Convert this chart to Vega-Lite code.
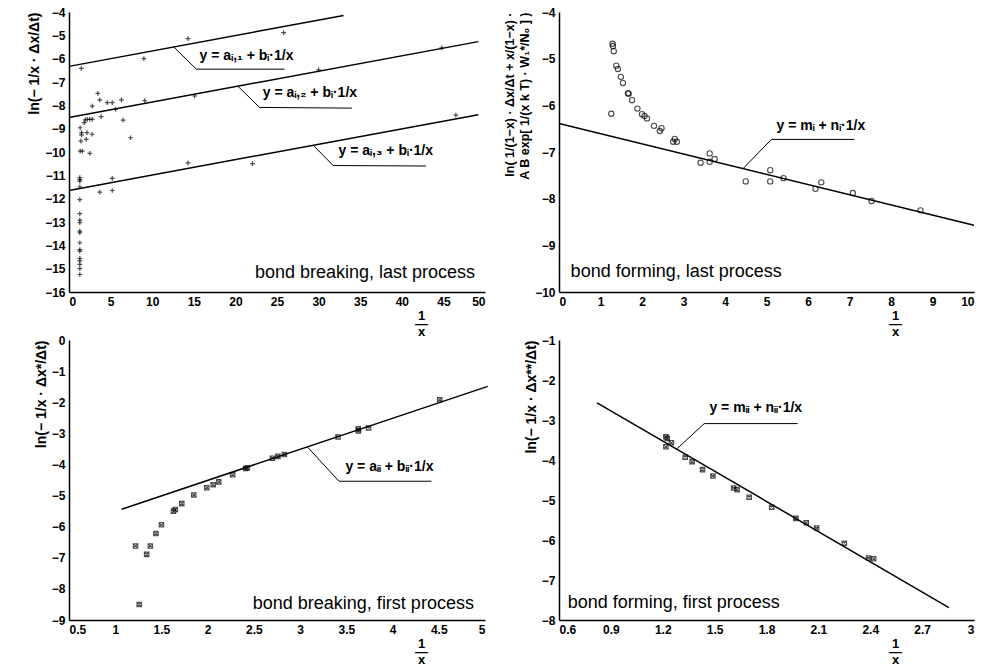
{
  "$schema": "https://vega.github.io/schema/vega-lite/v6.json",
  "background": "white",
  "padding": {"left": 27, "top": 6, "right": 0, "bottom": 0},
  "columns": 2,
  "spacing": {"row": 48, "column": 74},
  "bounds": "flush",
  "datasets": {
    "tl_pts": [
      {"x": 1.48, "y": -6.42}, {"x": 14.3, "y": -5.14}, {"x": 25.8, "y": -4.88}, {"x": 9.0, "y": -6.0},
      {"x": 30.0, "y": -6.48}, {"x": 44.8, "y": -5.54}, {"x": 46.5, "y": -8.42}, {"x": 15.1, "y": -7.6},
      {"x": 9.1, "y": -7.8}, {"x": 3.46, "y": -7.49}, {"x": 3.7, "y": -7.77}, {"x": 2.8, "y": -8.03},
      {"x": 4.6, "y": -7.88}, {"x": 5.2, "y": -7.88}, {"x": 6.3, "y": -7.77}, {"x": 5.6, "y": -8.17},
      {"x": 3.87, "y": -8.48}, {"x": 6.5, "y": -8.63}, {"x": 7.4, "y": -9.39}, {"x": 1.34, "y": -8.96},
      {"x": 1.5, "y": -9.17}, {"x": 1.5, "y": -9.27}, {"x": 1.83, "y": -8.74}, {"x": 1.95, "y": -8.62},
      {"x": 2.2, "y": -8.6}, {"x": 2.5, "y": -8.6}, {"x": 2.8, "y": -8.6}, {"x": 2.16, "y": -9.17},
      {"x": 2.77, "y": -9.24}, {"x": 1.43, "y": -9.53}, {"x": 2.07, "y": -9.46}, {"x": 2.5, "y": -10.06},
      {"x": 1.34, "y": -9.96}, {"x": 1.6, "y": -9.96}, {"x": 1.3, "y": -11.1}, {"x": 1.3, "y": -11.18},
      {"x": 1.3, "y": -11.25}, {"x": 1.3, "y": -11.49}, {"x": 1.3, "y": -12.04}, {"x": 1.3, "y": -12.64},
      {"x": 1.3, "y": -12.92}, {"x": 1.3, "y": -13.03}, {"x": 1.3, "y": -13.39}, {"x": 1.3, "y": -13.46},
      {"x": 1.3, "y": -13.89}, {"x": 1.3, "y": -14.18}, {"x": 1.3, "y": -14.25}, {"x": 1.3, "y": -14.56},
      {"x": 1.3, "y": -14.67}, {"x": 1.3, "y": -14.82}, {"x": 1.3, "y": -15.0}, {"x": 1.3, "y": -15.25},
      {"x": 5.2, "y": -11.13}, {"x": 3.7, "y": -11.72}, {"x": 5.2, "y": -11.65}, {"x": 14.3, "y": -10.47},
      {"x": 22.05, "y": -10.5}
    ],
    "tl_fit": [
      {"line": "a1", "x": 0, "y": -6.33}, {"line": "a1", "x": 33, "y": -4.15},
      {"line": "a2", "x": 0, "y": -8.52}, {"line": "a2", "x": 49.2, "y": -5.27},
      {"line": "a3", "x": 0, "y": -11.65}, {"line": "a3", "x": 49.2, "y": -8.4}
    ],
    "tl_lead": [
      {"line": "a1", "k": 0, "x": 12.6, "y": -5.5}, {"line": "a1", "k": 1, "x": 15.3, "y": -6.45}, {"line": "a1", "k": 2, "x": 25.9, "y": -6.45},
      {"line": "a2", "k": 0, "x": 20.3, "y": -7.18}, {"line": "a2", "k": 1, "x": 22.9, "y": -8.09}, {"line": "a2", "k": 2, "x": 34.0, "y": -8.12},
      {"line": "a3", "k": 0, "x": 29.35, "y": -9.71}, {"line": "a3", "k": 1, "x": 31.75, "y": -10.58}, {"line": "a3", "k": 2, "x": 42.9, "y": -10.6}
    ],
    "tl_lab": [
      {"x": 15.7, "y": -5.88, "label": "y = aᵢ,₁ + bᵢ·1/x"},
      {"x": 23.3, "y": -7.49, "label": "y = aᵢ,₂ + bᵢ·1/x"},
      {"x": 32.4, "y": -9.94, "label": "y = aᵢ,₃ + bᵢ·1/x"}
    ],
    "tr_pts": [
      {"x": 1.29, "y": -4.68}, {"x": 1.3, "y": -4.73}, {"x": 1.32, "y": -4.84}, {"x": 1.38, "y": -5.15},
      {"x": 1.42, "y": -5.22}, {"x": 1.49, "y": -5.39}, {"x": 1.54, "y": -5.52}, {"x": 1.66, "y": -5.74},
      {"x": 1.68, "y": -5.75}, {"x": 1.76, "y": -5.89}, {"x": 1.89, "y": -6.07}, {"x": 2.0, "y": -6.19},
      {"x": 2.06, "y": -6.23}, {"x": 2.12, "y": -6.28}, {"x": 2.29, "y": -6.44}, {"x": 2.43, "y": -6.55},
      {"x": 2.47, "y": -6.49}, {"x": 2.75, "y": -6.78}, {"x": 2.79, "y": -6.72}, {"x": 2.84, "y": -6.78},
      {"x": 1.26, "y": -6.18}, {"x": 3.41, "y": -7.23}, {"x": 3.63, "y": -7.03}, {"x": 3.63, "y": -7.21},
      {"x": 3.75, "y": -7.15}, {"x": 4.5, "y": -7.63}, {"x": 5.09, "y": -7.39}, {"x": 5.09, "y": -7.63},
      {"x": 5.41, "y": -7.56}, {"x": 6.18, "y": -7.79}, {"x": 6.32, "y": -7.65}, {"x": 7.08, "y": -7.88},
      {"x": 7.53, "y": -8.05}, {"x": 8.71, "y": -8.25}
    ],
    "tr_fit": [{"line": "m", "x": 0, "y": -6.39}, {"line": "m", "x": 10, "y": -8.57}],
    "tr_lead": [
      {"line": "m", "k": 0, "x": 4.43, "y": -7.36}, {"line": "m", "k": 1, "x": 5.12, "y": -6.73}, {"line": "m", "k": 2, "x": 7.12, "y": -6.73}
    ],
    "tr_lab": [{"x": 5.24, "y": -6.44, "label": "y = mᵢ + nᵢ·1/x"}],
    "bl_pts": [
      {"x": 1.22, "y": -6.62}, {"x": 1.26, "y": -8.5}, {"x": 1.34, "y": -6.89}, {"x": 1.38, "y": -6.62},
      {"x": 1.44, "y": -6.22}, {"x": 1.5, "y": -5.94}, {"x": 1.63, "y": -5.5}, {"x": 1.65, "y": -5.45},
      {"x": 1.72, "y": -5.26}, {"x": 1.85, "y": -4.98}, {"x": 1.99, "y": -4.75}, {"x": 2.06, "y": -4.65},
      {"x": 2.12, "y": -4.56}, {"x": 2.27, "y": -4.33}, {"x": 2.41, "y": -4.13}, {"x": 2.43, "y": -4.11},
      {"x": 2.7, "y": -3.8}, {"x": 2.76, "y": -3.74}, {"x": 2.83, "y": -3.68}, {"x": 3.41, "y": -3.12},
      {"x": 3.63, "y": -2.92}, {"x": 3.63, "y": -2.85}, {"x": 3.74, "y": -2.83}, {"x": 4.51, "y": -1.92}
    ],
    "bl_fit": [{"line": "a", "x": 1.07, "y": -5.44}, {"line": "a", "x": 5.03, "y": -1.49}],
    "bl_lead": [
      {"line": "a", "k": 0, "x": 3.08, "y": -3.44}, {"line": "a", "k": 1, "x": 3.42, "y": -4.54}, {"line": "a", "k": 2, "x": 4.42, "y": -4.54}
    ],
    "bl_lab": [{"x": 3.49, "y": -4.07, "label": "y = aᵢᵢ + bᵢᵢ·1/x"}],
    "br_pts": [
      {"x": 1.218, "y": -3.42}, {"x": 1.226, "y": -3.46}, {"x": 1.25, "y": -3.57}, {"x": 1.218, "y": -3.67},
      {"x": 1.33, "y": -3.93}, {"x": 1.37, "y": -4.04}, {"x": 1.43, "y": -4.24}, {"x": 1.49, "y": -4.4},
      {"x": 1.61, "y": -4.7}, {"x": 1.63, "y": -4.74}, {"x": 1.7, "y": -4.93}, {"x": 1.83, "y": -5.18},
      {"x": 1.97, "y": -5.46}, {"x": 2.03, "y": -5.57}, {"x": 2.09, "y": -5.7}, {"x": 2.25, "y": -6.08},
      {"x": 2.39, "y": -6.45}, {"x": 2.42, "y": -6.47}
    ],
    "br_fit": [{"line": "m", "x": 0.82, "y": -2.57}, {"line": "m", "x": 2.855, "y": -7.69}],
    "br_lead": [
      {"line": "m", "k": 0, "x": 1.28, "y": -3.73}, {"line": "m", "k": 1, "x": 1.44, "y": -3.09}, {"line": "m", "k": 2, "x": 1.98, "y": -3.09}
    ],
    "br_lab": [{"x": 1.47, "y": -2.69, "label": "y = mᵢᵢ + nᵢᵢ·1/x"}]
  },
  "concat": [
    {
      "width": 416, "height": 280,
      "encoding": {
        "x": {"field": "x", "type": "quantitative", "scale": {"domain": [0, 50], "nice": false, "zero": false},
              "axis": {"values": [0, 5, 10, 15, 20, 25, 30, 35, 40, 45, 50], "format": "~f", "title": ["1", "―", "x"], "titleX": 352, "titleY": 17}},
        "y": {"field": "y", "type": "quantitative", "scale": {"domain": [-16, -4], "nice": false, "zero": false},
              "axis": {"values": [-16, -15, -14, -13, -12, -11, -10, -9, -8, -7, -6, -5, -4], "format": "~f", "title": "ln(− 1/x · Δx/Δt)"}}
      },
      "layer": [
        {"data": {"name": "tl_pts"}, "mark": {"type": "point", "shape": "M-1,0H1M0,-1V1", "size": 22, "filled": false, "stroke": "black", "strokeWidth": 1.2}},
        {"data": {"name": "tl_fit"}, "mark": {"type": "line", "color": "black", "strokeWidth": 1.5}, "encoding": {"detail": {"field": "line"}}},
        {"data": {"name": "tl_lead"}, "mark": {"type": "line", "color": "black", "strokeWidth": 1}, "encoding": {"detail": {"field": "line"}, "order": {"field": "k"}}},
        {"data": {"name": "tl_lab"}, "mark": {"type": "text", "align": "left", "baseline": "middle", "fontSize": 14, "fontWeight": "bold", "color": "black"}, "encoding": {"text": {"field": "label"}}},
        {"data": {"values": [{"x": 48.8, "y": -15.2, "label": "bond breaking, last process"}]}, "mark": {"type": "text", "align": "right", "baseline": "middle", "fontSize": 18, "color": "black"}, "encoding": {"text": {"field": "label"}}}
      ]
    },
    {
      "width": 415, "height": 280,
      "encoding": {
        "x": {"field": "x", "type": "quantitative", "scale": {"domain": [0, 10], "nice": false, "zero": false},
              "axis": {"values": [0, 1, 2, 3, 4, 5, 6, 7, 8, 9, 10], "format": "~f", "title": ["1", "―", "x"], "titleX": 336, "titleY": 17}},
        "y": {"field": "y", "type": "quantitative", "scale": {"domain": [-10, -4], "nice": false, "zero": false},
              "axis": {"values": [-10, -9, -8, -7, -6, -5, -4], "format": "~f", "titleFontSize": 12.5, "titleLineHeight": 15, "title": ["ln( 1/(1−x) · Δx/Δt + x/(1−x) ·", "A B exp[ 1/(x k T) · W₁*/N₀ ] )"]}}
      },
      "layer": [
        {"data": {"name": "tr_pts"}, "mark": {"type": "point", "shape": "circle", "size": 28, "filled": false, "stroke": "black", "strokeWidth": 1.1}},
        {"data": {"name": "tr_fit"}, "mark": {"type": "line", "color": "black", "strokeWidth": 1.5}, "encoding": {"detail": {"field": "line"}}},
        {"data": {"name": "tr_lead"}, "mark": {"type": "line", "color": "black", "strokeWidth": 1}, "encoding": {"detail": {"field": "line"}, "order": {"field": "k"}}},
        {"data": {"name": "tr_lab"}, "mark": {"type": "text", "align": "left", "baseline": "middle", "fontSize": 14, "fontWeight": "bold", "color": "black"}, "encoding": {"text": {"field": "label"}}},
        {"data": {"values": [{"x": 0.28, "y": -9.57, "label": "bond forming, last process"}]}, "mark": {"type": "text", "align": "left", "baseline": "middle", "fontSize": 18, "color": "black"}, "encoding": {"text": {"field": "label"}}}
      ]
    },
    {
      "width": 416, "height": 280,
      "encoding": {
        "x": {"field": "x", "type": "quantitative", "scale": {"domain": [0.5, 5], "nice": false, "zero": false},
              "axis": {"values": [0.5, 1, 1.5, 2, 2.5, 3, 3.5, 4, 4.5, 5], "format": "~f", "title": ["1", "―", "x"], "titleX": 352, "titleY": 17}},
        "y": {"field": "y", "type": "quantitative", "scale": {"domain": [-9, 0], "nice": false, "zero": false},
              "axis": {"values": [-9, -8, -7, -6, -5, -4, -3, -2, -1, 0], "format": "~f", "title": "ln(− 1/x · Δx*/Δt)"}}
      },
      "layer": [
        {"data": {"name": "bl_pts"}, "mark": {"type": "point", "shape": "M-1,-1H1V1H-1ZM-1,-1L1,1M1,-1L-1,1", "size": 20, "filled": false, "stroke": "black", "strokeWidth": 1.1}},
        {"data": {"name": "bl_fit"}, "mark": {"type": "line", "color": "black", "strokeWidth": 1.5}, "encoding": {"detail": {"field": "line"}}},
        {"data": {"name": "bl_lead"}, "mark": {"type": "line", "color": "black", "strokeWidth": 1}, "encoding": {"detail": {"field": "line"}, "order": {"field": "k"}}},
        {"data": {"name": "bl_lab"}, "mark": {"type": "text", "align": "left", "baseline": "middle", "fontSize": 14, "fontWeight": "bold", "color": "black"}, "encoding": {"text": {"field": "label"}}},
        {"data": {"values": [{"x": 4.88, "y": -8.48, "label": "bond breaking, first process"}]}, "mark": {"type": "text", "align": "right", "baseline": "middle", "fontSize": 18, "color": "black"}, "encoding": {"text": {"field": "label"}}}
      ]
    },
    {
      "width": 415, "height": 280,
      "encoding": {
        "x": {"field": "x", "type": "quantitative", "scale": {"domain": [0.6, 3], "nice": false, "zero": false},
              "axis": {"values": [0.6, 0.9, 1.2, 1.5, 1.8, 2.1, 2.4, 2.7, 3], "format": "~f", "title": ["1", "―", "x"], "titleX": 336, "titleY": 17}},
        "y": {"field": "y", "type": "quantitative", "scale": {"domain": [-8, -1], "nice": false, "zero": false},
              "axis": {"values": [-8, -7, -6, -5, -4, -3, -2, -1], "format": "~f", "title": "ln(− 1/x · Δx**/Δt)"}}
      },
      "layer": [
        {"data": {"name": "br_pts"}, "mark": {"type": "point", "shape": "M-1,-1H1V1H-1ZM-1,-1L1,1M1,-1L-1,1", "size": 20, "filled": false, "stroke": "black", "strokeWidth": 1.1}},
        {"data": {"name": "br_fit"}, "mark": {"type": "line", "color": "black", "strokeWidth": 1.5}, "encoding": {"detail": {"field": "line"}}},
        {"data": {"name": "br_lead"}, "mark": {"type": "line", "color": "black", "strokeWidth": 1}, "encoding": {"detail": {"field": "line"}, "order": {"field": "k"}}},
        {"data": {"name": "br_lab"}, "mark": {"type": "text", "align": "left", "baseline": "middle", "fontSize": 14, "fontWeight": "bold", "color": "black"}, "encoding": {"text": {"field": "label"}}},
        {"data": {"values": [{"x": 0.65, "y": -7.58, "label": "bond forming, first process"}]}, "mark": {"type": "text", "align": "left", "baseline": "middle", "fontSize": 18, "color": "black"}, "encoding": {"text": {"field": "label"}}}
      ]
    }
  ],
  "config": {
    "view": {"stroke": null},
    "font": "Liberation Sans",
    "axis": {"grid": false, "ticks": false, "domainColor": "black", "domainWidth": 1.5, "labelColor": "black", "labelFont": "Liberation Sans", "labelFontWeight": "bold", "labelFontSize": 12, "labelPadding": 4, "titleColor": "black", "titleFont": "Liberation Sans", "titleFontWeight": "bold"},
    "axisX": {"titleFontSize": 13, "titleLineHeight": 8, "titleAlign": "center", "titleBaseline": "top", "titleAngle": 0},
    "axisY": {"titleFontSize": 14, "titleAnchor": "end", "titlePadding": 3}
  }
}
